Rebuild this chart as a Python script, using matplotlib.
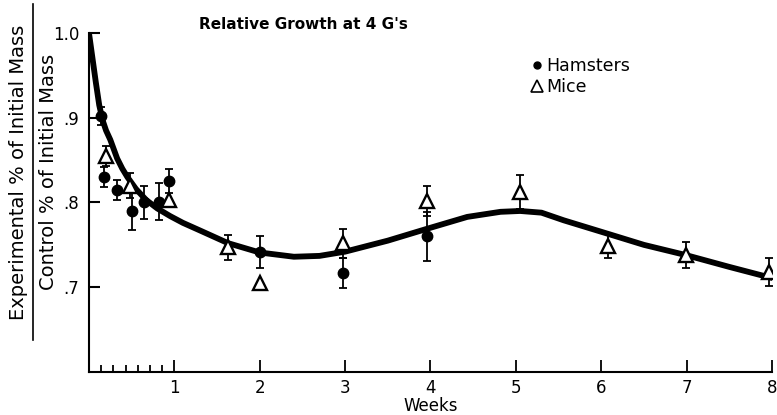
import numpy as np
import matplotlib
matplotlib.use("Agg")
import matplotlib.pyplot as plt
from matplotlib.lines import Line2D

# Hamsters (filled circles)
hamster_weeks = [0.14, 0.18, 0.33, 0.50, 0.65, 0.82, 0.94, 2.00, 2.98, 3.96]
hamster_ratio = [0.902, 0.830, 0.815, 0.790, 0.800, 0.801, 0.825, 0.742, 0.717, 0.760]
hamster_err = [0.011, 0.012, 0.012, 0.022, 0.020, 0.022, 0.014, 0.019, 0.018, 0.029]

# Mice (open triangles), 0 = no visible error bar
mice_weeks = [0.20, 0.48, 0.94, 1.63, 2.00, 2.97, 3.96, 5.05, 6.08, 6.99, 7.97]
mice_ratio = [0.855, 0.820, 0.803, 0.747, 0.705, 0.752, 0.802, 0.812, 0.749, 0.738, 0.718]
mice_err = [0.012, 0.015, 0.0, 0.015, 0.0, 0.017, 0.018, 0.020, 0.015, 0.015, 0.017]

# Hand-drawn fitted curve
curve_weeks = [0.0, 0.04, 0.08, 0.12, 0.16, 0.20, 0.25, 0.29, 0.33, 0.39, 0.45, 0.55,
               0.67, 0.80, 0.95, 1.10, 1.30, 1.63, 2.00, 2.40, 2.70, 3.00, 3.50,
               3.96, 4.43, 4.82, 5.05, 5.30, 5.56, 6.08, 6.50, 6.99, 7.50, 7.88, 8.0]
curve_ratio = [1.000, 0.971, 0.942, 0.915, 0.897, 0.885, 0.874, 0.863, 0.852, 0.840, 0.830, 0.816,
               0.803, 0.793, 0.784, 0.776, 0.767, 0.752, 0.741, 0.736, 0.737, 0.742, 0.755,
               0.769, 0.783, 0.789, 0.790, 0.788, 0.779, 0.763, 0.750, 0.738, 0.724, 0.714, 0.711]

x_major = [1, 2, 3, 4, 5, 6, 7, 8]
x_minor = [1/7, 2/7, 3/7, 4/7, 5/7, 6/7]
y_ticks = [0.7, 0.8, 0.9, 1.0]
y_labels = [".7", ".8", ".9", "1.0"]

plt.rcParams['font.family'] = ['DejaVu Sans']

fig = plt.figure(figsize=(7.77, 4.15), dpi=100)
ax = fig.add_axes([0.1145, 0.1036, 0.8791, 0.8169])

ax.plot(curve_weeks, curve_ratio, color='black', lw=4.2,
        solid_joinstyle='round', solid_capstyle='round', zorder=2)

ax.errorbar(hamster_weeks, hamster_ratio, yerr=hamster_err, fmt='o', color='black',
            markersize=7.5, ecolor='black', elinewidth=1.3, capsize=3, capthick=1.3, zorder=3)

ax.errorbar(mice_weeks, mice_ratio, yerr=mice_err, fmt='none',
            ecolor='black', elinewidth=1.3, capsize=3, capthick=1.3, zorder=3)
ax.plot(mice_weeks, mice_ratio, linestyle='none', marker='^', markersize=9.5,
        markerfacecolor='white', markeredgecolor='black', markeredgewidth=1.7, zorder=4)

ax.set_xlim(0, 8)
ax.set_ylim(0.6, 1.0)
ax.spines['top'].set_visible(False)
ax.spines['right'].set_visible(False)
ax.spines['left'].set_linewidth(1.5)
ax.spines['bottom'].set_linewidth(1.5)

ax.set_xticks(x_major)
ax.set_xticklabels([str(v) for v in x_major], fontsize=12)
ax.set_xticks(x_minor, minor=True)
ax.set_yticks(y_ticks)
ax.set_yticklabels(y_labels, fontsize=12)
ax.tick_params(axis='x', which='major', direction='in', length=9, width=1.3, pad=5)
ax.tick_params(axis='x', which='minor', direction='in', length=5, width=1.3)
ax.tick_params(axis='y', which='major', direction='in', length=8, width=1.5, pad=7)
ax.set_xlabel('Weeks', fontsize=12, labelpad=0)

# title
fig.text(0.39, 0.94, "Relative Growth at 4 G's", fontsize=11, fontweight='bold',
         ha='center', va='center')

# fraction-style y label
fig.text(0.024, 0.585, 'Experimental % of Initial Mass', rotation=90, fontsize=14,
         ha='center', va='center')
fig.add_artist(Line2D([0.0425, 0.0425], [0.18, 0.99], color='black', lw=1.2))
fig.text(0.063, 0.585, 'Control % of Initial Mass', rotation=90, fontsize=14,
         ha='center', va='center')

# legend
handles = [Line2D([], [], linestyle='none', marker='o', markersize=5, color='black'),
           Line2D([], [], linestyle='none', marker='^', markersize=8,
                  markerfacecolor='white', markeredgecolor='black', markeredgewidth=1.2)]
ax.legend(handles, ['Hamsters', 'Mice'], loc='upper left', bbox_to_anchor=(0.676, 0.88),
          bbox_transform=fig.transFigure, frameon=False, fontsize=12.5,
          handlelength=0.6, handletextpad=0.2, labelspacing=0.2, borderaxespad=0)

fig.savefig('out.png', dpi=100)
